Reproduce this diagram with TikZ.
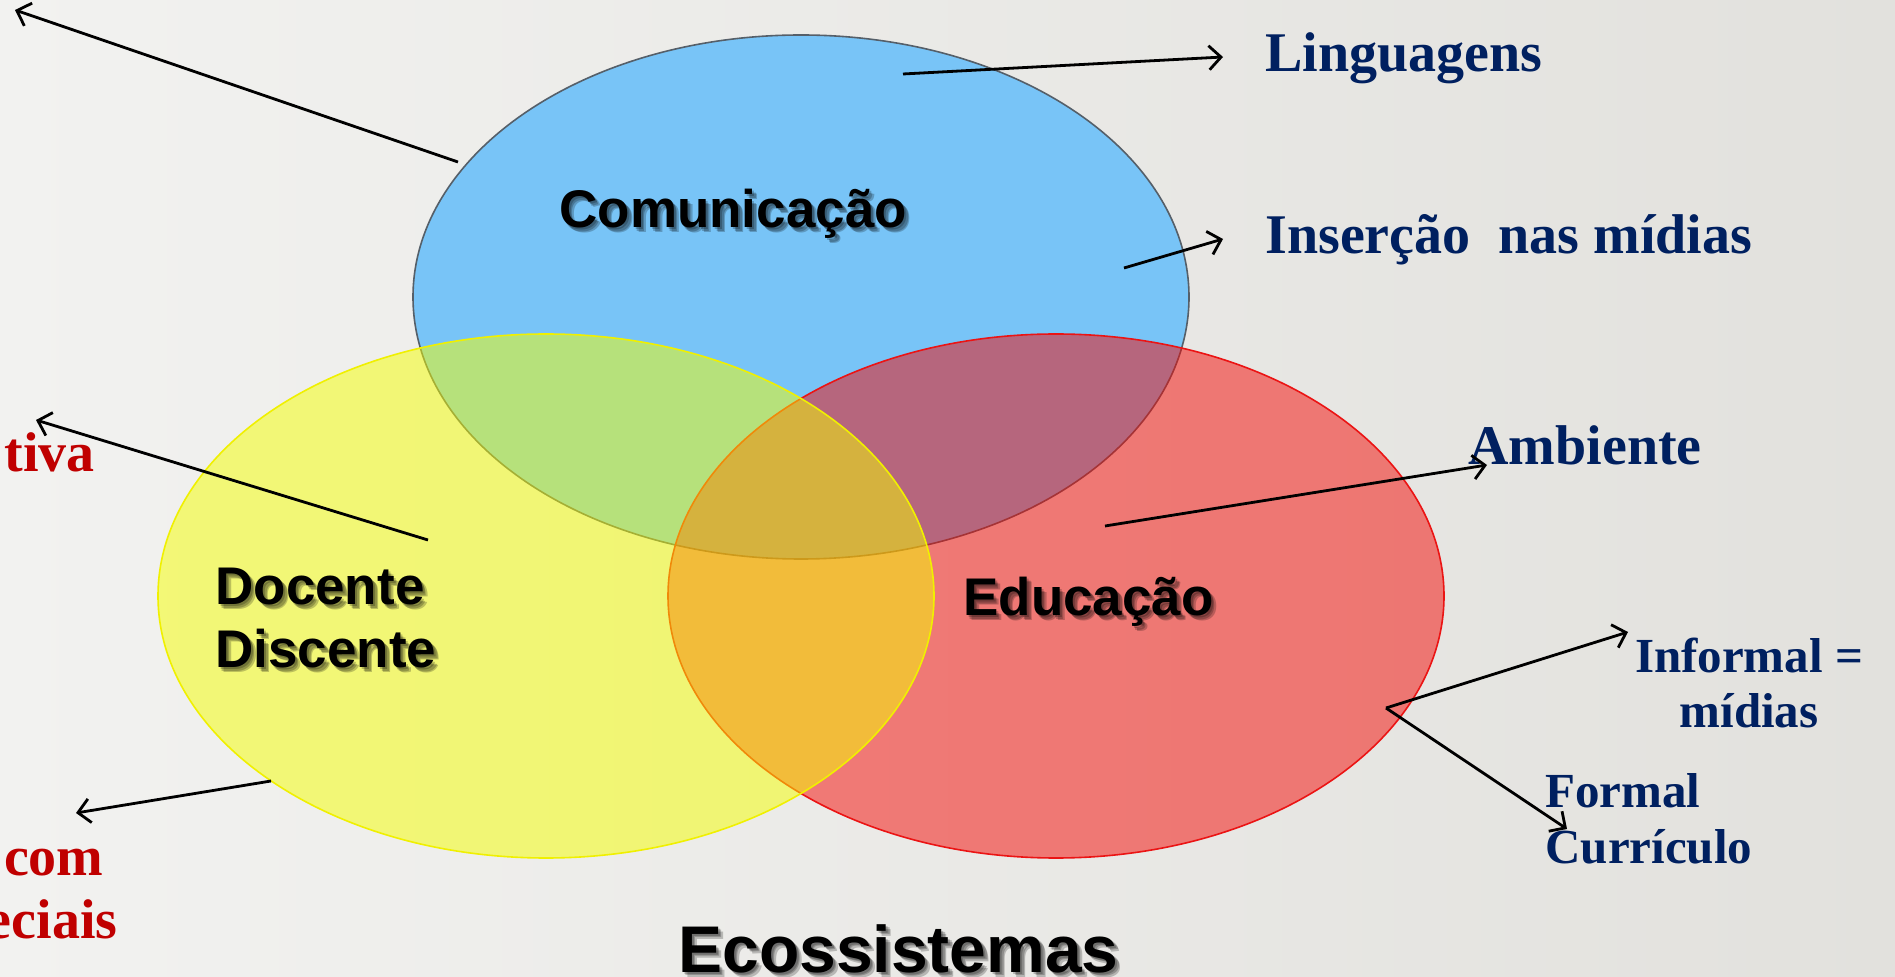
\documentclass[tikz,border=0pt]{standalone}
\usepackage{fontspec}
\setmainfont{Liberation Serif}
\newfontfamily\arialf{Liberation Sans}
\usetikzlibrary{shapes.geometric,arrows.meta}
\definecolor{bgL}{RGB}{242,242,240}
\definecolor{bgR}{RGB}{226,225,221}
\definecolor{cblue}{RGB}{120,196,247}
\definecolor{cred}{RGB}{245,9,4}
\definecolor{cyel}{RGB}{245,255,0}
\definecolor{navy}{RGB}{0,32,96}
\definecolor{dred}{RGB}{192,0,0}
\definecolor{blueline}{RGB}{85,95,105}
\definecolor{redline}{RGB}{235,20,20}
\definecolor{yelline}{RGB}{240,240,0}
\begin{document}
\begin{tikzpicture}[x=0.5pt,y=-0.5pt,
  circ/.style={ellipse, inner sep=0pt, minimum width=388pt, minimum height=262pt},
  sanslbl/.style={font=\arialf\bfseries\fontsize{26.5}{31}\selectfont, inner sep=0pt, text=black, anchor=base west},
  biglbl/.style={sanslbl, font=\arialf\bfseries\fontsize{33}{38}\selectfont},
  shad/.style={text=black, text opacity=0.22},
  navylbl/.style={font=\bfseries\fontsize{28}{34}\selectfont, text=navy, inner sep=0pt},
  navysm/.style={font=\bfseries\fontsize{24.5}{28}\selectfont, text=navy, inner sep=0pt},
  redlbl/.style={font=\bfseries\fontsize{28}{34}\selectfont, text=dred, inner sep=0pt},
  arr/.style={line width=1.4pt, -{Straight Barb[length=6pt,width=12pt]}}
]
\useasboundingbox (0,0) rectangle (1895,977);
\clip (0,0) rectangle (1895,977);
\shade[left color=bgL, right color=bgR] (0,0) rectangle (1895,977);

% circles
\node[circ, fill=cblue, draw=blueline, line width=0.8pt] (blue) at (801,297) {};
\node[circ, fill=cred, fill opacity=0.5, draw=redline, line width=0.8pt] (red) at (1056,596) {};
\node[circ, fill=cyel, fill opacity=0.5, draw=yelline, line width=0.8pt] (yel) at (546,596) {};

% soft shadows of the sans labels
\foreach \d [count=\i] in {2,3.5,5} {
  \node[sanslbl, shad] (comS\i) at (559+\d,228+\d) {Comunicação};
  \node[sanslbl, shad] (docS\i) at (215+\d,605+\d) {Docente};
  \node[sanslbl, shad] (disS\i) at (215+\d,668+\d) {Discente};
  \node[sanslbl, shad] (eduS\i) at (963+\d,616+\d) {Educação};
  \node[biglbl, shad] (ecoS\i) at (678+\d,972+\d) {Ecossistemas};
}
% sans labels
\node[sanslbl] (com) at (559,228) {Comunicação};
\node[sanslbl] (doc) at (215,605) {Docente};
\node[sanslbl] (dis) at (215,668) {Discente};
\node[sanslbl] (edu) at (963,616) {Educação};
\node[biglbl] (eco) at (678,972) {Ecossistemas};

% navy labels
\node[navylbl, anchor=base west] (lin) at (1265,72) {Linguagens};
\node[navylbl, anchor=base west] (ins) at (1265,254) {Inserção\ \ nas mídias};
\node[navylbl, anchor=base west] (amb) at (1468,465) {Ambiente};
\node[navysm, anchor=base] (inf) at (1749,673) {Informal =};
\node[navysm, anchor=base] (mid) at (1749,728) {mídias};
\node[navysm, anchor=base west] (for) at (1545,807) {Formal};
\node[navysm, anchor=base west] (cur) at (1545,863) {Currículo};

% red cut-off labels
\node[redlbl, anchor=base east] (tiva) at (95,472) {tiva};
\node[redlbl, anchor=base east] (comr) at (104,875) {com};
\node[redlbl, anchor=base east] (eci) at (118,938) {eciais};

% arrow end points
\coordinate (a1s) at (458,162); \coordinate (a1e) at (15,10);
\coordinate (a2s) at (903,74);  \coordinate (a2e) at (1223,57);
\coordinate (a3s) at (1124,268); \coordinate (a3e) at (1223,239);
\coordinate (a4s) at (428,540); \coordinate (a4e) at (36,420);
\coordinate (a5s) at (271,781); \coordinate (a5e) at (76,813);
\coordinate (a6s) at (1105,526); \coordinate (a6e) at (1487,465);
\coordinate (a7s) at (1386,708); \coordinate (a7e) at (1628,632);
\coordinate (a8e) at (1567,829);

\draw[arr] (a1s) -- (a1e);
\draw[arr] (a2s) -- (a2e);
\draw[arr] (a3s) -- (a3e);
\draw[arr] (a4s) -- (a4e);
\draw[arr] (a5s) -- (a5e);
\draw[arr] (a6s) -- (a6e);
\draw[arr] (a7s) -- (a7e);
\draw[arr] (a7s) -- (a8e);
\end{tikzpicture}
\end{document}
